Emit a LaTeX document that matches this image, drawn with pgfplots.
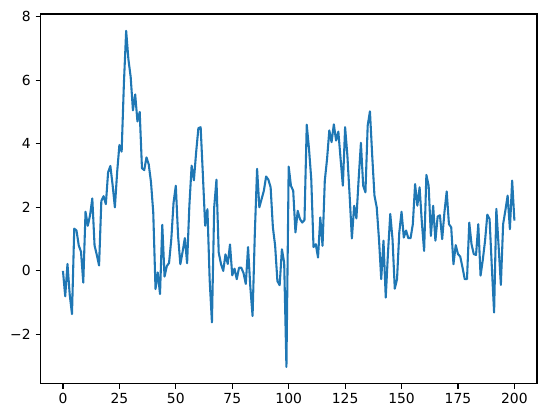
\documentclass[border=0pt]{standalone}
\usepackage{pgfplots}
\pgfplotsset{compat=1.18}
\usepackage{pgfplotstable}
\usepackage{fontspec}
\setmainfont{DejaVu Sans}
\definecolor{mplblue}{HTML}{1F77B4}
\pgfplotstableread{
x y
0 0
1 -0.8
2 0.22
3 -0.75
4 -1.36
5 1.33
6 1.27
7 0.8
8 0.6
9 -0.37
10 1.86
11 1.42
12 1.75
13 2.28
14 0.8
15 0.5
16 0.17
17 2.2
18 2.35
19 2.1
20 3.1
21 3.3
22 2.7
23 2.0
24 3.1
25 3.96
26 3.75
27 5.9
28 7.55
29 6.65
30 6.1
31 5.05
32 5.55
33 4.7
34 5.0
35 3.23
36 3.17
37 3.57
38 3.35
39 2.79
40 1.84
41 -0.57
42 -0.05
43 -0.73
44 1.45
45 -0.18
46 0.15
47 0.25
48 1.0
49 2.15
50 2.68
51 1.1
52 0.21
53 0.6
54 1.03
55 0.24
56 2.05
57 3.31
58 2.85
59 3.73
60 4.49
61 4.52
62 3.0
63 1.42
64 1.94
65 -0.3
66 -1.62
67 2.0
68 2.87
69 0.58
70 0.22
71 0.0
72 0.52
73 0.22
74 0.83
75 -0.14
76 0.07
77 -0.26
78 0.1
79 0.1
80 -0.07
81 -0.41
82 0.75
83 -0.5
84 -1.42
85 1.18
86 3.21
87 2.0
88 2.26
89 2.52
90 2.97
91 2.87
92 2.63
93 1.37
94 0.79
95 -0.32
96 -0.45
97 0.68
98 0.26
99 -3.02
100 3.28
101 2.68
102 2.52
103 1.21
104 1.89
105 1.63
106 1.52
107 1.6
108 4.6
109 3.84
110 2.89
111 0.75
112 0.84
113 0.42
114 1.68
115 0.79
116 2.84
117 3.52
118 4.42
119 4.05
120 4.61
121 4.1
122 4.38
123 3.52
124 2.68
125 4.52
126 3.63
127 2.37
128 1.02
129 2.05
130 1.65
131 2.89
132 4.03
133 2.68
134 2.47
135 4.57
136 5.02
137 3.63
138 2.37
139 2.0
140 1.0
141 -0.26
142 0.95
143 -0.84
144 0.58
145 1.79
146 1.0
147 -0.56
148 -0.26
149 1.21
150 1.86
151 1.05
152 1.27
153 1.03
154 1.03
155 1.47
156 2.73
157 2.05
158 2.63
159 1.52
160 0.63
161 3.02
162 2.68
163 1.1
164 2.05
165 0.95
166 1.71
167 1.75
168 1.0
169 1.84
170 2.5
171 1.47
172 1.37
173 0.21
174 0.81
175 0.53
176 0.45
177 0.11
178 -0.26
179 -0.26
180 1.52
181 0.84
182 0.53
183 0.5
184 1.47
185 -0.15
186 0.35
187 0.95
188 1.77
189 1.63
190 0.12
191 -1.31
192 1.95
193 0.78
194 -0.44
195 1.47
196 1.9
197 2.37
198 1.31
199 2.84
200 1.58
}\datatable
\begin{document}
\begin{tikzpicture}
\path[use as bounding box] (-29.1pt,-23.8pt) rectangle (364.3pt,276.5pt);
\begin{axis}[
  at={(0,0)}, anchor=south west,
  scale only axis, width=357.8pt, height=266.4pt,
  xmin=-10, xmax=210, ymin=-3.55, ymax=8.08,
  axis line style={line width=0.8pt},
  xtick={0,25,...,200}, ytick={-2,0,...,8},
  xticklabels={0,25,50,75,100,125,150,175,200},
  yticklabels={−2,0,2,4,6,8},
  tick align=outside, tick pos=left,
  major tick length=3.5pt,
  every tick/.style={black, line width=0.8pt},
  tick label style={font=\fontsize{10}{12}\selectfont},
]
\addplot[mplblue, line width=1.5pt, line join=round] table[x=x, y=y] {\datatable};
\end{axis}
\end{tikzpicture}
\end{document}
